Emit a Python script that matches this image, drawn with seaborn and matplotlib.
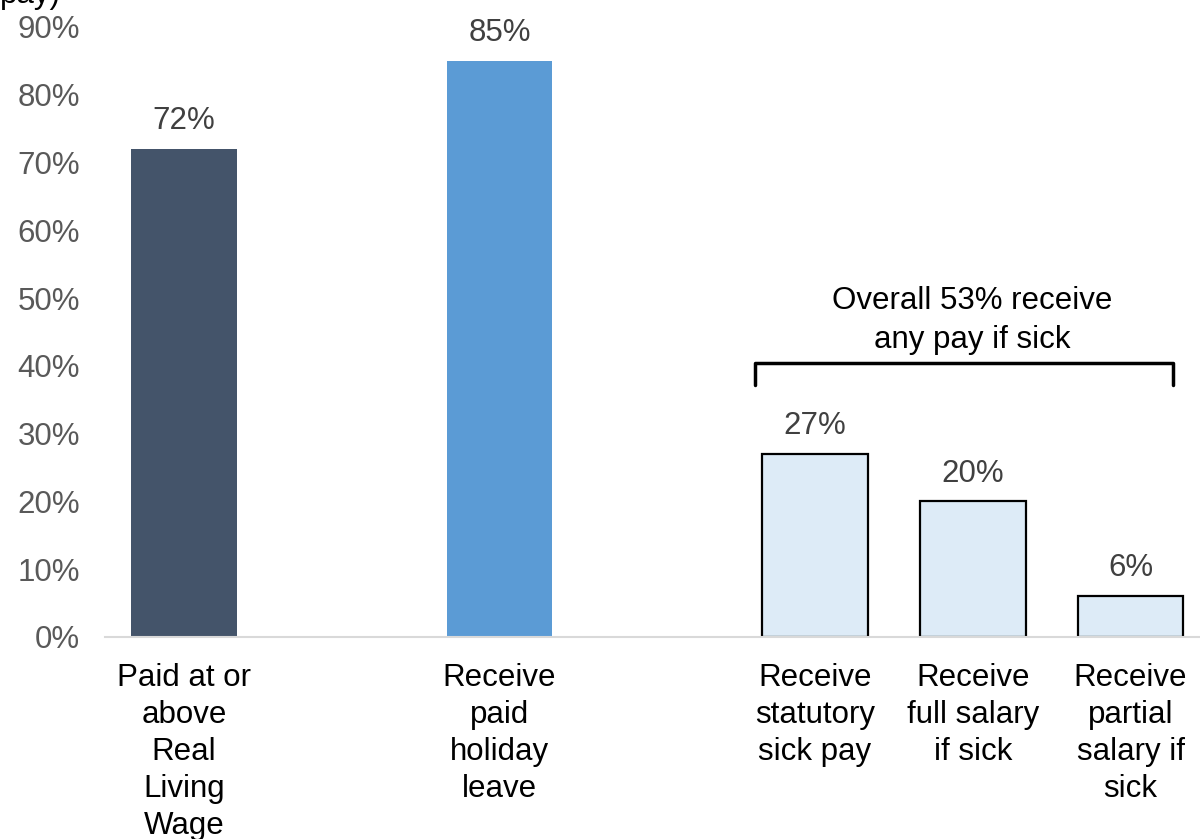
import matplotlib
matplotlib.use("Agg")
import matplotlib.pyplot as plt
import seaborn as sns
import pandas as pd

categories = [
    "Paid at or\nabove\nReal\nLiving\nWage",
    "Receive\npaid\nholiday\nleave",
    "Receive\nstatutory\nsick pay",
    "Receive\nfull salary\nif sick",
    "Receive\npartial\nsalary if\nsick",
]
values = [72, 85, 27, 20, 6]
colors = ["#44546A", "#5B9BD5", "#DDEBF7", "#DDEBF7", "#DDEBF7"]
edges = ["none", "none", "black", "black", "black"]
bracket_text = "Overall 53% receive\nany pay if sick"
y_ticks = [0, 10, 20, 30, 40, 50, 60, 70, 80, 90]

sns.set_theme(style="white")
plt.rcParams["font.family"] = ["Liberation Sans", "DejaVu Sans"]
FS = 22.5

df = pd.DataFrame({"category": categories, "value": values})
# spacer slots leave gaps between the groups of bars
order = [categories[0], "_gap1", categories[1], "_gap2"] + categories[2:]

fig = plt.figure(figsize=(12, 8.39), dpi=100)
ax = fig.add_axes([105 / 1200, 1 - 637 / 839, 1 - 105 / 1200, (637 - 27) / 839])

sns.barplot(data=df, x="category", y="value", order=order, ax=ax,
            width=0.67, hue="category", hue_order=categories,
            palette=colors, legend=False, saturation=1)

for patch, ec in zip(ax.patches, edges):
    if ec != "none":
        patch.set_edgecolor(ec)
        patch.set_linewidth(1.6)
    else:
        patch.set_linewidth(0)

# value labels above bars
for patch, v in zip(ax.patches, values):
    cx = patch.get_x() + patch.get_width() / 2
    ax.text(cx, v + 1.9, f"{v}%", ha="center", va="bottom",
            fontsize=FS, color="#404040")

ax.set_ylim(0, 90)
ax.set_xlim(-0.5, 6.44)
ax.set_yticks(y_ticks)
ax.set_yticklabels([f"{t}%" for t in y_ticks], fontsize=FS, color="#595959")
ax.tick_params(axis="y", length=0, pad=18)

ticks = [0, 2, 4, 5, 6]
ax.set_xticks(ticks)
ax.set_xticklabels(categories, fontsize=FS, color="black", linespacing=1.3)
ax.tick_params(axis="x", length=0, pad=19)
ax.set_xlabel("")
ax.set_ylabel("")

for side in ["top", "right", "left"]:
    ax.spines[side].set_visible(False)
ax.spines["bottom"].set_color("#D9D9D9")
ax.spines["bottom"].set_linewidth(1.5)

# bracket spanning the sick-pay bars
bx0, bx1 = 3.62, 6.27
by, bdrop = 40.5, 3.3
ax.plot([bx0, bx0, bx1, bx1], [by - bdrop, by, by, by - bdrop],
        color="black", lw=2.5, solid_joinstyle="round", clip_on=False)
ax.text((bx0 + bx1) / 2 + 0.05, by + 1.1, bracket_text, ha="center", va="bottom",
        fontsize=FS, color="black", linespacing=1.38)

# partially visible axis title at the top edge
fig.text(0.0, 1.0 + 20 / 839, "pay)", ha="left", va="top",
         fontsize=FS, color="black")

fig.savefig("out.png", dpi=100)
